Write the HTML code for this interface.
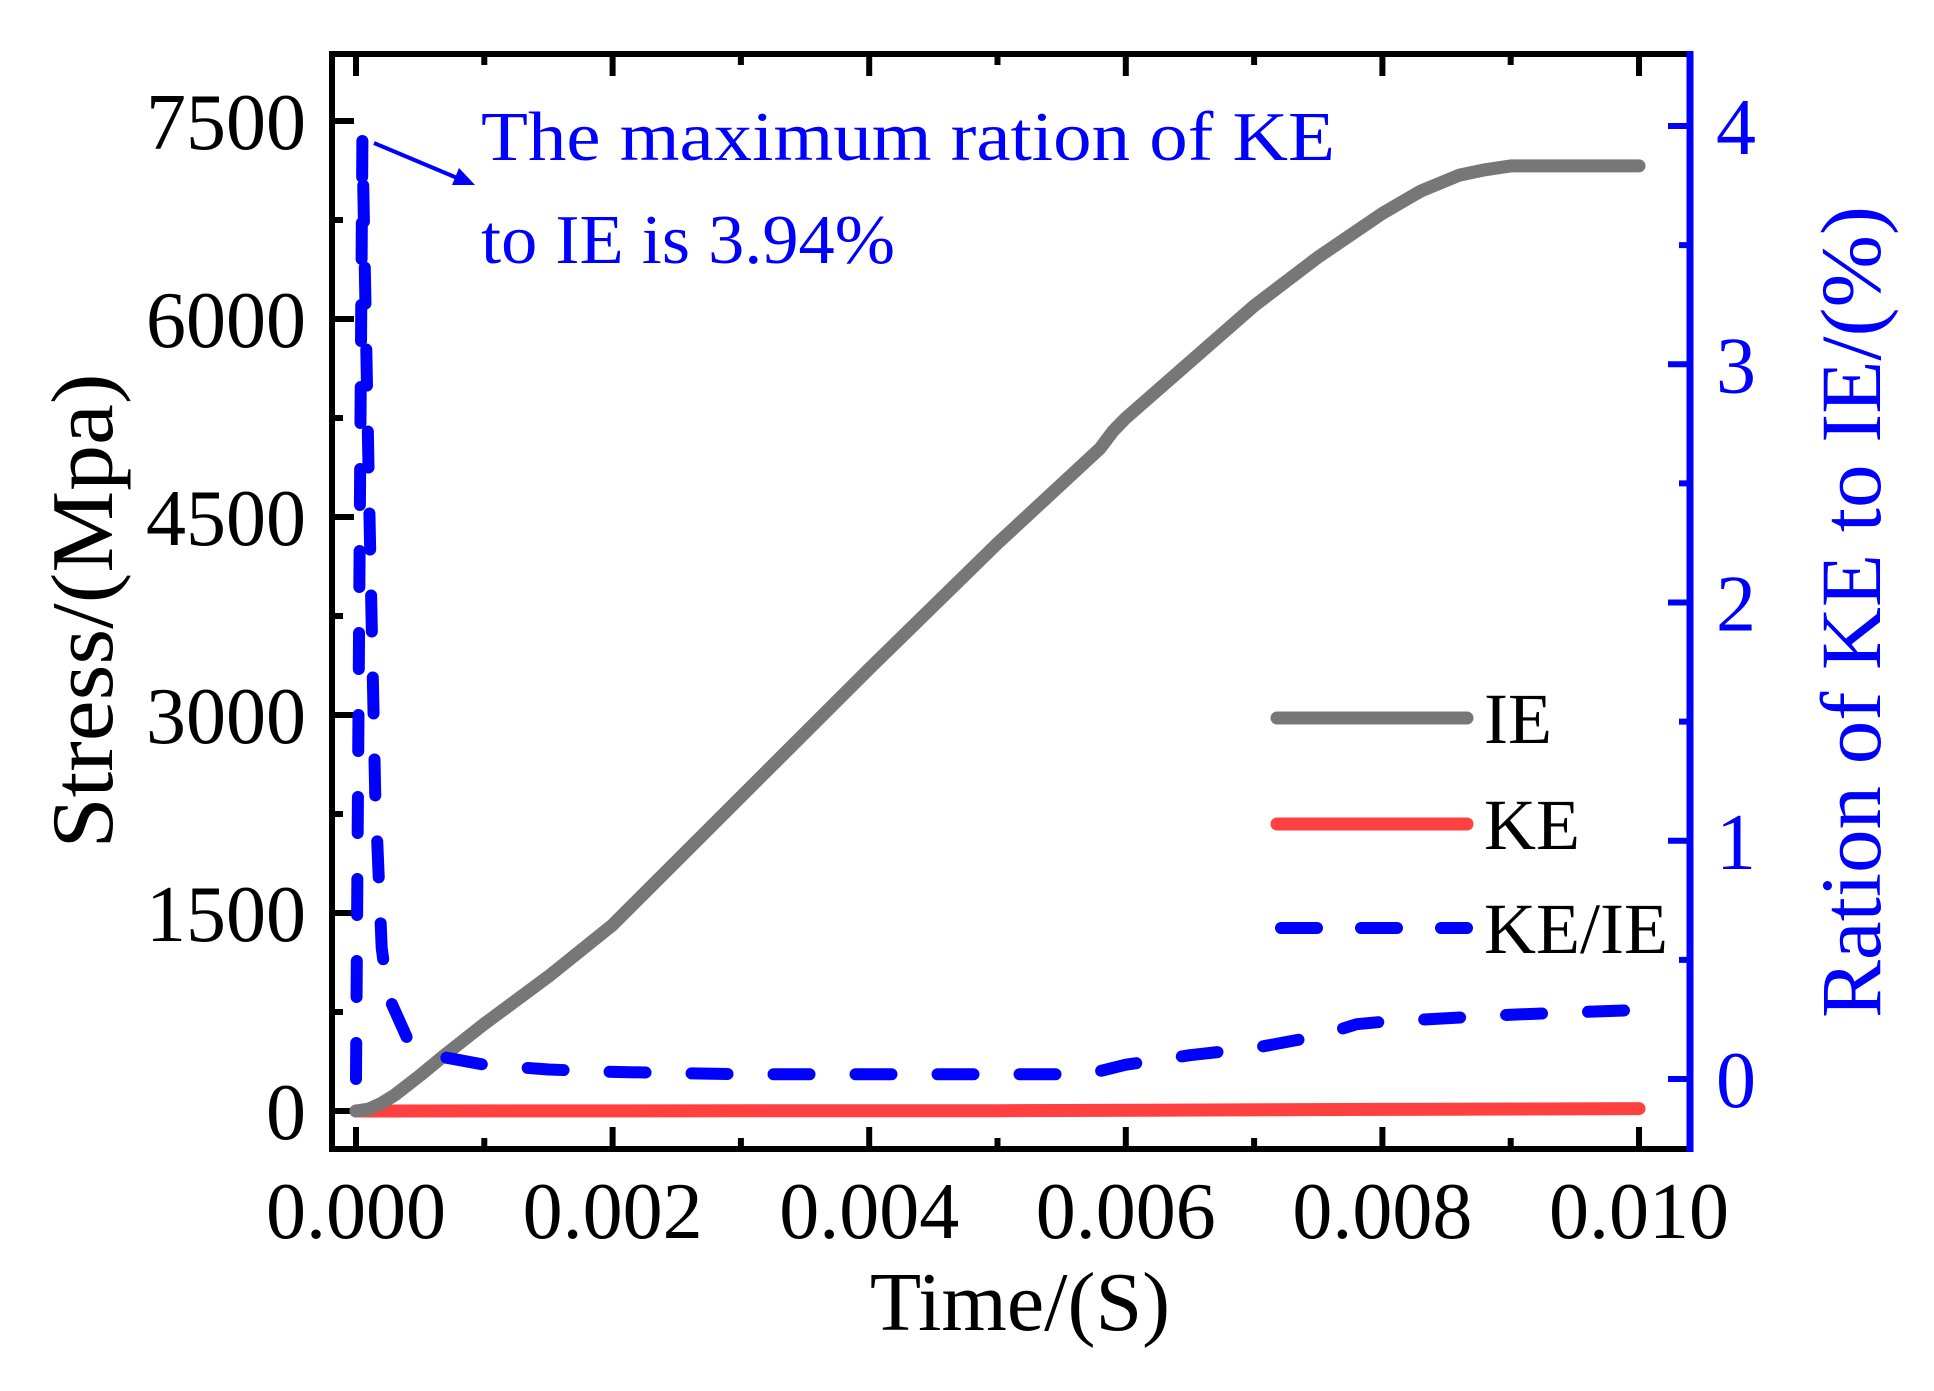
<!DOCTYPE html>
<html><head><meta charset="utf-8"><style>html,body{margin:0;padding:0;background:#fff}svg{display:block}</style></head>
<body>
<svg id="chart" width="1934" height="1391" viewBox="0 0 1934 1391" xmlns="http://www.w3.org/2000/svg" font-family="'Liberation Serif', serif">
<g id="plot"></g>
</svg>
<script>
const xTicks = [0, 0.002, 0.004, 0.006, 0.008, 0.010];
const xTickLabels = ["0.000","0.002","0.004","0.006","0.008","0.010"];
const yTicks = [0,1500,3000,4500,6000,7500];
const yTickLabels = ["0","1500","3000","4500","6000","7500"];
const y2Ticks = [0,1,2,3,4];
const y2TickLabels = ["0","1","2","3","4"];
const ieTime = [0,0.0001,0.0002,0.0003,0.0005,0.0007,0.001,0.0015,0.002,0.003,0.004,0.005,0.0058,0.0059,0.006,0.007,0.0075,0.008,0.0083,0.0086,0.0088,0.009,0.01];
const ieValues = [0,15,60,120,270,430,660,1020,1410,2380,3350,4300,5020,5150,5250,6100,6470,6800,6970,7090,7130,7160,7160];
const keTime = [0,0.005,0.008,0.01];
const keValues = [0,2,12,18];
const ratioTime = [0,0.00005,0.0001,0.00015,0.0002,0.00025,0.0004,0.0006,0.001,0.0015,0.002,0.003,0.0057,0.006,0.0065,0.007,0.0075,0.0078,0.008,0.009,0.01];
const ratioValues = [0,3.94,2.5,1.2,0.55,0.35,0.17,0.1,0.06,0.04,0.03,0.02,0.02,0.06,0.1,0.13,0.18,0.23,0.24,0.27,0.29];

const NS="http://www.w3.org/2000/svg";
const g=document.getElementById('plot');
const L=332,R=1690,T=54,B=1149;
const X=t=>356+t*(1639-356)/0.010;
const Y=v=>1111-v*(1111-121)/7500;
const Y2=v=>1079-v*(1079-126)/4;
function mk(tag,attrs,parent){const e=document.createElementNS(NS,tag);for(const k in attrs)e.setAttribute(k,attrs[k]);(parent||g).appendChild(e);return e;}

xTicks.forEach((t,i)=>{
  const tk=mk('line',{x1:X(t),x2:X(t),y1:B,y2:B-22,stroke:'#000','stroke-width':6});
  
  
  mk('line',{x1:X(t),x2:X(t),y1:T,y2:T+22,stroke:'#000','stroke-width':6});
  if(i<xTicks.length-1){const m=X(t+0.001);mk('line',{x1:m,x2:m,y1:B,y2:B-11,stroke:'#000','stroke-width':6});mk('line',{x1:m,x2:m,y1:T,y2:T+11,stroke:'#000','stroke-width':6});}
  const tx=mk('text',{x:X(t),y:1238,'font-size':80,'text-anchor':'middle',fill:'#000'});
  tx.textContent=xTickLabels[i];
  
  
});
yTicks.forEach((v,i)=>{
  mk('line',{x1:L,x2:L+22,y1:Y(v),y2:Y(v),stroke:'#000','stroke-width':6});
  if(i<yTicks.length-1){const m=Y(v+750);mk('line',{x1:L,x2:L+11,y1:m,y2:m,stroke:'#000','stroke-width':6});}
  const tx=mk('text',{x:306,y:Y(v)+28,'font-size':80,'text-anchor':'end',fill:'#000'});
  tx.textContent=yTickLabels[i];
  
  
});
y2Ticks.forEach((v,i)=>{
  mk('line',{x1:R,x2:R-22,y1:Y2(v),y2:Y2(v),stroke:'#00f','stroke-width':6});
  if(i<y2Ticks.length-1){const m=Y2(v+0.5);mk('line',{x1:R,x2:R-11,y1:m,y2:m,stroke:'#00f','stroke-width':6});}
  const tx=mk('text',{x:1736,y:Y2(v)+28,'font-size':80,'text-anchor':'middle',fill:'#00f'});
  tx.textContent=y2TickLabels[i];
  
  
});
const fr=mk('path',{d:`M${R},${T} L${L},${T} L${L},${B} L${R},${B}`,fill:'none',stroke:'#000','stroke-width':6});


const ra=mk('line',{x1:R,x2:R,y1:T-3,y2:B+3,stroke:'#00f','stroke-width':7});



function pts(ts,vs,yf){return ts.map((t,i)=>X(t).toFixed(1)+','+yf(vs[i]).toFixed(1)).join(' ');}
const ke=mk('polyline',{points:pts(keTime,keValues,Y),fill:'none',stroke:'#ff4040','stroke-width':13,'stroke-linecap':'round','stroke-linejoin':'round'});


const ie=mk('polyline',{points:pts(ieTime,ieValues,Y),fill:'none',stroke:'#777','stroke-width':13,'stroke-linecap':'round','stroke-linejoin':'round'});


const ra2=mk('polyline',{points:pts(ratioTime,ratioValues,Y2),fill:'none',stroke:'#00f','stroke-width':12,'stroke-dasharray':'36 46','stroke-linecap':'round','stroke-linejoin':'round'});


</script>
<svg style="position:absolute;left:0;top:0" width="1934" height="1391" viewBox="0 0 1934 1391" font-family="'Liberation Serif', serif">
  <text x="1020" y="1330" font-size="84" text-anchor="middle" fill="#000">Time/(S)</text>
  <text transform="translate(112,611) rotate(-90)" font-size="88" text-anchor="middle" fill="#000" textLength="475" lengthAdjust="spacingAndGlyphs">Stress/(Mpa)</text>
  <text transform="translate(1880,612) rotate(-90)" font-size="86" text-anchor="middle" fill="#00f" textLength="812" lengthAdjust="spacingAndGlyphs">Ration of KE to IE/(%)</text>
  <g fill="#00f">
    <text x="481" y="160" font-size="70" textLength="854" lengthAdjust="spacingAndGlyphs">The maximum ration of KE</text>
    <text x="481" y="263" font-size="70" textLength="414" lengthAdjust="spacingAndGlyphs">to IE is 3.94%</text>
    <line x1="374" y1="143" x2="462" y2="180" stroke="#00f" stroke-width="4"/>
    <polygon points="475,185 452,185 459,168" fill="#00f"/>
  </g>
  <g>
    <line x1="1277" y1="718" x2="1467" y2="718" stroke="#777" stroke-width="13" stroke-linecap="round"/>
    <text x="1484" y="743" font-size="72" fill="#000">IE</text>
    <line x1="1277" y1="824" x2="1467" y2="824" stroke="#ff4040" stroke-width="13" stroke-linecap="round"/>
    <text x="1484" y="849" font-size="72" fill="#000">KE</text>
    <line x1="1281" y1="928" x2="1467" y2="928" stroke="#00f" stroke-width="12" stroke-dasharray="36 44" stroke-linecap="round"/>
    <text x="1484" y="953" font-size="72" fill="#000">KE/IE</text>
  </g>
</svg>
</body></html>
